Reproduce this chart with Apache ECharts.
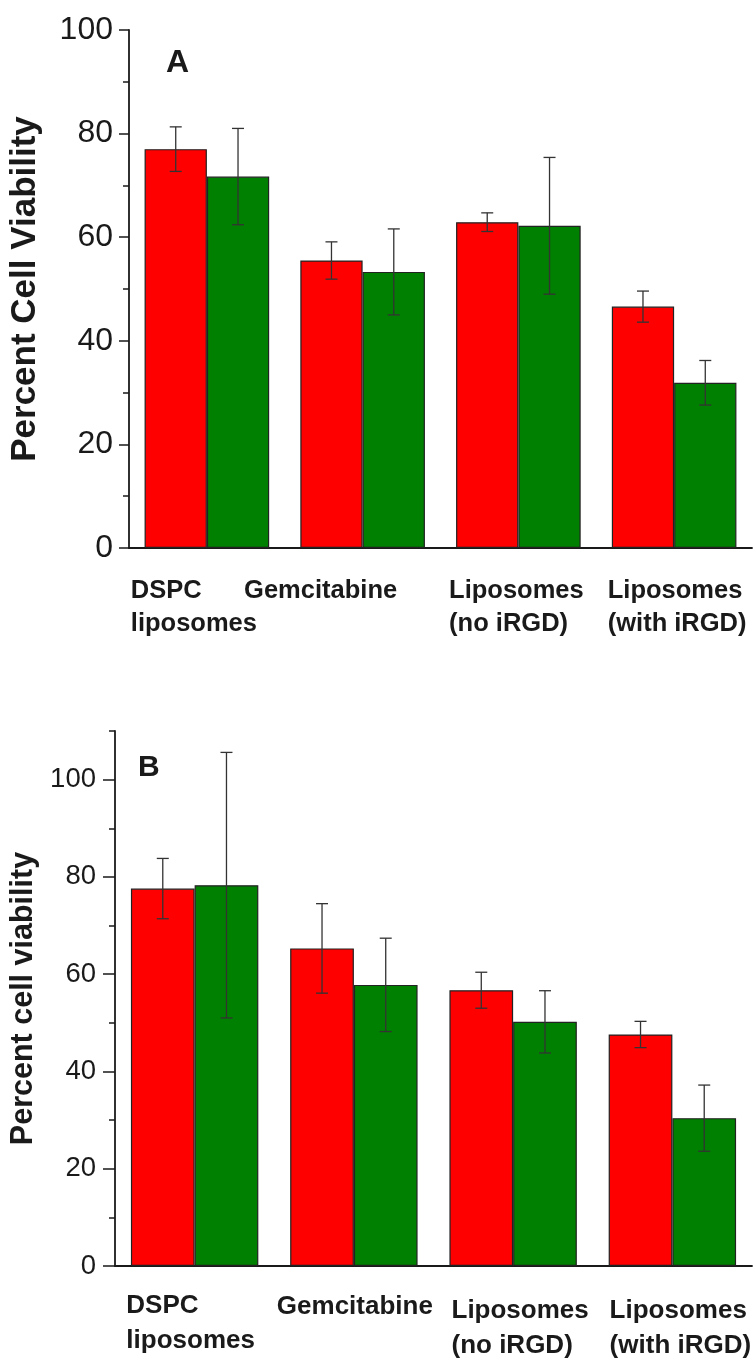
<!DOCTYPE html>
<html>
<head>
    <meta charset="utf-8">
    <script src="https://cdn.jsdelivr.net/npm/echarts@6/dist/echarts.min.js"></script>
    <style>
        html, body { margin: 0; padding: 0; background: #fff; }
    </style>
</head>
<body>
    <div id="main" style="width: 754px;height:1359px;"></div>

    <script type="text/javascript">
        // categories (x axis), same for both panels
        var categories = ['DSPC\nliposomes', 'Gemcitabine', 'Liposomes\n(no iRGD)', 'Liposomes\n(with iRGD)'];

        // panel A
        var aRed = [77.0, 55.5, 62.9, 46.6];
        var aRedErr = [4.3, 3.6, 1.8, 3.0];
        var aGreen = [71.7, 53.3, 62.2, 31.9];
        var aGreenErr = [9.3, 8.3, 13.2, 4.3];

        // panel B
        var bRed = [77.6, 65.3, 56.7, 47.6];
        var bRedErr = [6.2, 9.2, 3.7, 2.7];
        var bGreen = [78.3, 57.8, 50.2, 30.4];
        var bGreenErr = [27.3, 9.6, 6.4, 6.8];

        // y ticks
        var aMajorTicks = [0, 20, 40, 60, 80, 100];
        var aMinorTicks = [10, 30, 50, 70, 90];
        var bMajorTicks = [0, 20, 40, 60, 80, 100];
        var bMinorTicks = [10, 30, 50, 70, 90, 110];

        var FONT = '"Liberation Sans", Arial, Helvetica, sans-serif';
        var INK = '#1a1a1a';

        var myChart = echarts.init(document.getElementById('main'));

        function errData(vals, errs) {
            var res = [];
            for (var i = 0; i < vals.length; i++) {
                res.push([i, vals[i], errs[i]]);
            }
            return res;
        }

        // error bars drawn on top of the grouped bars
        function errRenderer(side) {
            return function (params, api) {
                var idx = api.value(0);
                var mean = api.value(1);
                var err = api.value(2);
                var band = api.size([1, 0])[0];
                var off = side * band * 0.2;
                var top = api.coord([idx, mean + err]);
                var bot = api.coord([idx, mean - err]);
                var x = top[0] + off;
                var cap = 6;
                var st = { stroke: '#333', lineWidth: 1.3 };
                return {
                    type: 'group',
                    children: [
                        { type: 'line', shape: { x1: x, y1: top[1], x2: x, y2: bot[1] }, style: st },
                        { type: 'line', shape: { x1: x - cap, y1: top[1], x2: x + cap, y2: top[1] }, style: st },
                        { type: 'line', shape: { x1: x - cap, y1: bot[1], x2: x + cap, y2: bot[1] }, style: st }
                    ]
                };
            };
        }

        // per-category label shifts, through rich text padding
        function catLabel(value, index) {
            return value.split('\n').map(function (l) {
                return '{t' + index + '|' + l + '}';
            }).join('\n');
        }
        function richStyles(fs, lh, pads) {
            var r = {};
            for (var i = 0; i < pads.length; i++) {
                r['t' + i] = {
                    fontFamily: FONT, fontSize: fs, fontWeight: 'bold', color: INK,
                    lineHeight: lh, align: 'left', padding: pads[i]
                };
            }
            return r;
        }

        function xAxes(gridIndex, rich, margin) {
            return [{
                type: 'category',
                gridIndex: gridIndex,
                data: categories,
                position: 'bottom',
                axisLine: { lineStyle: { color: INK, width: 1.8 } },
                axisTick: { length: 5, lineStyle: { color: INK, width: 1.5 } },
                axisLabel: { formatter: catLabel, rich: rich, margin: margin, interval: 0 }
            }, {
                type: 'category',
                gridIndex: gridIndex,
                data: categories,
                position: 'bottom',
                axisLine: { show: false },
                axisTick: { alignWithLabel: true, length: 10, lineStyle: { color: INK, width: 1.5 } },
                axisLabel: { show: false }
            }];
        }

        function yAxes(gridIndex, max, majors, minors, labelSize, labelMargin, name, nameSize, nameGap, tickLen) {
            return [{
                type: 'value',
                gridIndex: gridIndex,
                position: 'left',
                min: 0,
                max: max,
                name: name,
                nameLocation: 'middle',
                nameGap: nameGap,
                nameTextStyle: { fontFamily: FONT, fontSize: nameSize, fontWeight: 'bold', color: INK },
                splitLine: { show: false },
                axisLine: { show: true, lineStyle: { color: INK, width: 1.8 } },
                axisTick: { show: true, length: tickLen, customValues: majors, lineStyle: { color: INK, width: 1.5 } },
                axisLabel: { customValues: majors, fontFamily: FONT, fontSize: labelSize, color: INK, margin: labelMargin }
            }, {
                type: 'value',
                gridIndex: gridIndex,
                position: 'left',
                min: 0,
                max: max,
                splitLine: { show: false },
                axisLine: { show: false },
                axisTick: { show: true, length: 6, customValues: minors, lineStyle: { color: INK, width: 1.5 } },
                axisLabel: { show: false }
            }];
        }

        var barStyle = function (c) {
            return { color: c, borderColor: '#222', borderWidth: 1.2 };
        };

        var richA = richStyles(25.5, 33, [[0, 26, 0, 0], [0, 84, 0, 0], [0, 4, 0, 0], [0, 0, 0, 6]]);
        var richB = richStyles(26, 35, [[0, 8, 0, 0], [3, 0, 0, 2], [10, 0, 0, 14], [10, 0, 0, 16]]);

        var option = {
            animation: false,
            backgroundColor: '#fff',
            grid: [
                { left: 125, right: 2, top: 30, height: 518 },
                { left: 112, right: 2, top: 731, height: 535 }
            ],
            xAxis: xAxes(0, richA, 26).concat(xAxes(1, richB, 22)),
            yAxis: yAxes(0, 100, aMajorTicks, aMinorTicks, 32, 16, 'Percent Cell Viability', 35, 86, 10)
                .concat(yAxes(1, 110, bMajorTicks, bMinorTicks, 27.5, 19, 'Percent cell viability', 30.5, 76, 12)),
            graphic: [
                { type: 'text', left: 166, top: 47, style: { text: 'A', fontFamily: FONT, fontSize: 32, fontWeight: 'bold', fill: INK } },
                { type: 'text', left: 138, top: 753, style: { text: 'B', fontFamily: FONT, fontSize: 30, fontWeight: 'bold', fill: INK } }
            ],
            series: [
                { type: 'bar', xAxisIndex: 0, yAxisIndex: 0, data: aRed, barGap: 0, barCategoryGap: '20%', itemStyle: barStyle('#ff0000') },
                { type: 'bar', xAxisIndex: 0, yAxisIndex: 0, data: aGreen, barGap: 0, barCategoryGap: '20%', itemStyle: barStyle('#008000') },
                { type: 'custom', xAxisIndex: 0, yAxisIndex: 0, data: errData(aRed, aRedErr), renderItem: errRenderer(-1), z: 5 },
                { type: 'custom', xAxisIndex: 0, yAxisIndex: 0, data: errData(aGreen, aGreenErr), renderItem: errRenderer(1), z: 5 },

                { type: 'bar', xAxisIndex: 2, yAxisIndex: 2, data: bRed, barGap: 0, barCategoryGap: '20%', itemStyle: barStyle('#ff0000') },
                { type: 'bar', xAxisIndex: 2, yAxisIndex: 2, data: bGreen, barGap: 0, barCategoryGap: '20%', itemStyle: barStyle('#008000') },
                { type: 'custom', xAxisIndex: 2, yAxisIndex: 2, data: errData(bRed, bRedErr), renderItem: errRenderer(-1), z: 5 },
                { type: 'custom', xAxisIndex: 2, yAxisIndex: 2, data: errData(bGreen, bGreenErr), renderItem: errRenderer(1), z: 5 }
            ]
        };
        myChart.setOption(option);
    </script>
</body>
</html>
